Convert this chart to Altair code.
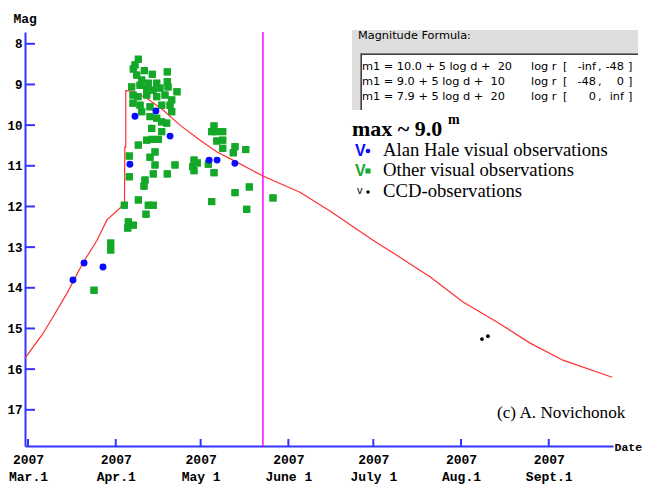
import altair as alt
import pandas as pd

# ---- data (x = days after 2007-03-01, y = magnitude) ----
hale_day = [15.9, 19.8, 26.5, 36.0, 37.8, 45.2, 50.2, 64.0, 66.8, 73.1]
hale_mag = [13.81, 13.39, 13.49, 10.96, 9.78, 9.65, 10.27, 10.86, 10.86, 10.94]

ccd_day = [160.4, 162.5]
ccd_mag = [15.26, 15.19]

other_day = [38.98, 37.81, 37.21, 41.10, 43.92, 49.22, 38.41, 40.18, 42.51, 45.48,
             49.22, 36.64, 39.58, 41.94, 44.17, 46.64, 49.47, 52.65, 37.10, 38.87,
             41.94, 45.48, 48.41, 50.78, 37.10, 39.58, 43.11, 47.24, 50.18, 50.78,
             40.18, 43.11, 45.48, 47.24, 49.01, 43.71, 47.24, 41.94, 43.71, 46.04,
             38.98, 44.88, 43.11, 35.80, 51.94, 44.88, 35.80, 44.28, 49.22, 41.34,
             40.99, 34.03, 38.98, 42.51, 44.28, 41.70, 35.44, 37.21, 35.23, 65.72,
             64.91, 66.43, 68.80, 66.68, 68.80, 68.80, 73.14, 72.54, 76.93, 58.66,
             59.82, 58.20, 58.66, 63.71, 65.72, 73.14, 64.91, 78.20, 77.28, 86.57,
             23.32, 29.22, 29.22]
other_mag = [8.38, 8.52, 8.62, 8.66, 8.75, 8.69, 8.77, 8.89, 8.97, 8.97,
             8.93, 9.06, 9.02, 9.09, 9.14, 9.09, 9.06, 9.18, 9.26, 9.30,
             9.26, 9.30, 9.26, 9.38, 9.46, 9.51, 9.55, 9.51, 9.51, 9.67,
             9.67, 9.79, 9.83, 9.92, 9.95, 10.08, 10.16, 10.37, 10.35, 10.35,
             10.49, 10.66, 10.79, 10.76, 10.98, 10.98, 11.27, 11.20, 11.20, 11.35,
             11.50, 11.97, 11.84, 11.97, 11.97, 12.19, 12.38, 12.46, 12.53, 10.02,
             10.16, 10.16, 10.16, 10.39, 10.37, 10.57, 10.53, 10.68, 10.60, 10.86,
             10.93, 11.02, 11.12, 10.96, 11.17, 11.66, 11.88, 11.52, 12.07, 11.79,
             14.06, 12.90, 13.07]

curve_day = [-1.06, 4.95, 7.77, 13.8, 19.4, 24.4, 27.9, 34.1, 34.2, 34.55, 34.55,
             36.7, 42.0, 47.7, 53.7, 60.8, 66.8, 72.4, 83.0, 96.1, 106.7, 121.9,
             130.3, 142.0, 153.7, 165.7, 177.4, 189.0, 206.4]
curve_mag = [15.73, 15.16, 14.84, 14.13, 13.39, 12.83, 12.33, 11.94, 10.54, 10.54, 9.15,
             9.16, 9.34, 9.63, 10.0, 10.37, 10.66, 10.86, 11.25, 11.65, 12.11, 12.83,
             13.20, 13.73, 14.35, 14.84, 15.36, 15.78, 16.20]

marker_day = [83.0]

ytick_vals = [8, 9, 10, 11, 12, 13, 14, 15, 16, 17]
xtick_days = [0, 31, 61, 92, 122, 153, 184]
xtick_month = ["Mar.1", "Apr.1", "May 1", "June 1", "July 1", "Aug.1", "Sept.1"]
xtick_year = "2007"

NB = "\u00a0"
formula_left = ["m1 = 10.0 + 5 log d +" + NB + NB + "20",
                "m1 = 9.0 + 5 log d +" + NB + NB + "10",
                "m1 = 7.9 + 5 log d +" + NB + NB + "20"]
formula_lo = ["-inf", "-48", "0"]
formula_hi = ["-48", "0", "inf"]

# ---- styling ----
AXIS_BLUE = "#3434ff"
MONO = "Liberation Mono"
SERIF = "Liberation Serif"
SANS = "Liberation Sans"
FSANS = "DejaVu Sans"
OX, OY = 25, 32  # plot origin on page

xscale = alt.Scale(domain=[-1.06, 206.7], nice=False, zero=False)
yscale = alt.Scale(domain=[7.71, 17.89], reverse=True, nice=False, zero=False)

label_expr = " : ".join(
    f"datum.value == {d} ? ['{xtick_year}', '{m}']" for d, m in zip(xtick_days, xtick_month)
) + " : ''"

x_axis = alt.Axis(values=xtick_days, labelExpr=label_expr, ticks=False, tickSize=0,
                  domainColor=AXIS_BLUE, domainWidth=2, grid=False,
                  labelFont=MONO, labelFontSize=13, labelFontWeight="bold", labelColor="black",
                  labelPadding=7, labelLineHeight=17, labelOverlap=False, labelFlush=False,
                  labelBaseline="top",
                  title="Date", titleX=589, titleY=1, titleAlign="left", titleBaseline="middle",
                  titleAngle=0, titleFont=MONO, titleFontSize=11.5, titleFontWeight="bold",
                  titleColor="black")
y_axis = alt.Axis(values=ytick_vals, ticks=False, tickSize=0,
                  domainColor=AXIS_BLUE, domainWidth=2, grid=False,
                  labelFont=MONO, labelFontSize=12.5, labelFontWeight="bold", labelColor="black",
                  labelPadding=3,
                  title="Mag", titleX=-12, titleY=-14, titleAlign="left", titleBaseline="middle",
                  titleAngle=0, titleFont=MONO, titleFontSize=13, titleFontWeight="bold",
                  titleColor="black")


def X(field):
    return alt.X(f"{field}:Q", scale=xscale, axis=x_axis)


def Y(field):
    return alt.Y(f"{field}:Q", scale=yscale, axis=y_axis)


one = alt.Data(values=[{}])


def txt(s, px, py, size, font, color="black", weight="normal", align="left", baseline="middle"):
    return alt.Chart(one).mark_text(text=s, font=font, fontSize=size, fontWeight=weight,
                                    color=color, align=align, baseline=baseline).encode(
        x=alt.value(px - OX), y=alt.value(py - OY))


def box(x1, y1, x2, y2, color):
    return alt.Chart(one).mark_rect(color=color).encode(
        x=alt.value(x1 - OX), x2=alt.value(x2 - OX), y=alt.value(y1 - OY), y2=alt.value(y2 - OY))


layers = []

# other visual observations (first layer carries the axes)
layers.append(alt.Chart(pd.DataFrame({"d": other_day, "m": other_mag})).mark_square(
    color="#14a829", opacity=1, size=50).encode(x=X("d"), y=Y("m")))

# formula panel
layers.append(box(352, 30, 638, 110, "#dedede"))
layers.append(box(360, 53, 638, 110, "white"))
layers.append(box(360, 53, 638, 54, "#808080"))
layers.append(box(360, 53, 361, 110, "#808080"))
layers.append(box(361, 54, 638, 55, "#404040"))
layers.append(box(361, 54, 362, 110, "#404040"))
layers.append(txt("Magnitude Formula:", 358, 36, 11.3, FSANS))
for i in range(3):
    yy = 67 + 15 * i
    layers.append(txt(formula_left[i], 362, yy, 11.3, FSANS))
    layers.append(txt("log r", 531, yy, 11.3, FSANS))
    layers.append(txt("[", 563, yy, 11.3, FSANS))
    layers.append(txt(formula_lo[i], 596, yy, 11.3, FSANS, align="right"))
    layers.append(txt(",", 598, yy, 11.3, FSANS))
    layers.append(txt(formula_hi[i], 624, yy, 11.3, FSANS, align="right"))
    layers.append(txt("]", 628, yy, 11.3, FSANS))

# magenta marker line
layers.append(alt.Chart(pd.DataFrame({"d": marker_day})).mark_rule(
    color="#ff00ff", strokeWidth=1.5).encode(x=X("d")))

# model curve
curve_df = pd.DataFrame({"d": curve_day, "m": curve_mag, "i": range(len(curve_day))})
layers.append(alt.Chart(curve_df).mark_line(color="#ff3030", strokeWidth=1.2).encode(
    x=X("d"), y=Y("m"), order=alt.Order("i:Q")))

# green squares drawn again above the curve
layers.append(alt.Chart(pd.DataFrame({"d": other_day, "m": other_mag})).mark_square(
    color="#14a829", opacity=1, size=50).encode(x=X("d"), y=Y("m")))

# Alan Hale
layers.append(alt.Chart(pd.DataFrame({"d": hale_day, "m": hale_mag})).mark_circle(
    color="#0a0aff", opacity=1, size=48).encode(x=X("d"), y=Y("m")))

# CCD
layers.append(alt.Chart(pd.DataFrame({"d": ccd_day, "m": ccd_mag})).mark_circle(
    color="black", opacity=1, size=14).encode(x=X("d"), y=Y("m")))

# inward ticks
layers.append(alt.Chart(pd.DataFrame({"v": ytick_vals})).mark_rule(
    color=AXIS_BLUE, strokeWidth=2).encode(y=Y("v"), x=alt.value(0), x2=alt.value(10)))
layers.append(alt.Chart(pd.DataFrame({"d": xtick_days})).mark_rule(
    color=AXIS_BLUE, strokeWidth=2).encode(x=X("d"), y=alt.value(407), y2=alt.value(414)))

# legend / annotations
layers.append(txt("max ~ 9.0", 352, 129, 22, SERIF, weight="bold"))
layers.append(txt("m", 448, 120, 14, SERIF, weight="bold"))
legend_rows = [("Alan Hale visual observations", 150), ("Other visual observations", 170),
               ("CCD-observations", 191)]
layers.append(txt("V", 355, legend_rows[0][1] + 1, 16, SANS, color="#0a0aff", weight="bold"))
layers.append(txt("V", 355, legend_rows[1][1] + 1, 16, SANS, color="#14a829", weight="bold"))
layers.append(txt("v", 357, legend_rows[2][1], 11, SANS, color="black"))
layers.append(alt.Chart(one).mark_circle(color="#0a0aff", opacity=1, size=22).encode(
    x=alt.value(368 - OX), y=alt.value(legend_rows[0][1] + 1 - OY)))
layers.append(alt.Chart(one).mark_square(color="#14a829", opacity=1, size=26).encode(
    x=alt.value(368 - OX), y=alt.value(legend_rows[1][1] + 1 - OY)))
layers.append(alt.Chart(one).mark_circle(color="black", opacity=1, size=12).encode(
    x=alt.value(368 - OX), y=alt.value(legend_rows[2][1] + 1 - OY)))
for label, yy in legend_rows:
    layers.append(txt(label, 383, yy, 18.7, SERIF))
layers.append(txt("(c) A. Novichonok", 497, 413, 17.2, SERIF))

chart = alt.layer(*layers).properties(
    width=588, height=414, autosize="none",
    padding={"left": 17, "top": 24, "right": 29, "bottom": 45},
).configure_view(strokeWidth=0)

chart.save("out.html", embed_options={"renderer": "svg", "actions": False})
